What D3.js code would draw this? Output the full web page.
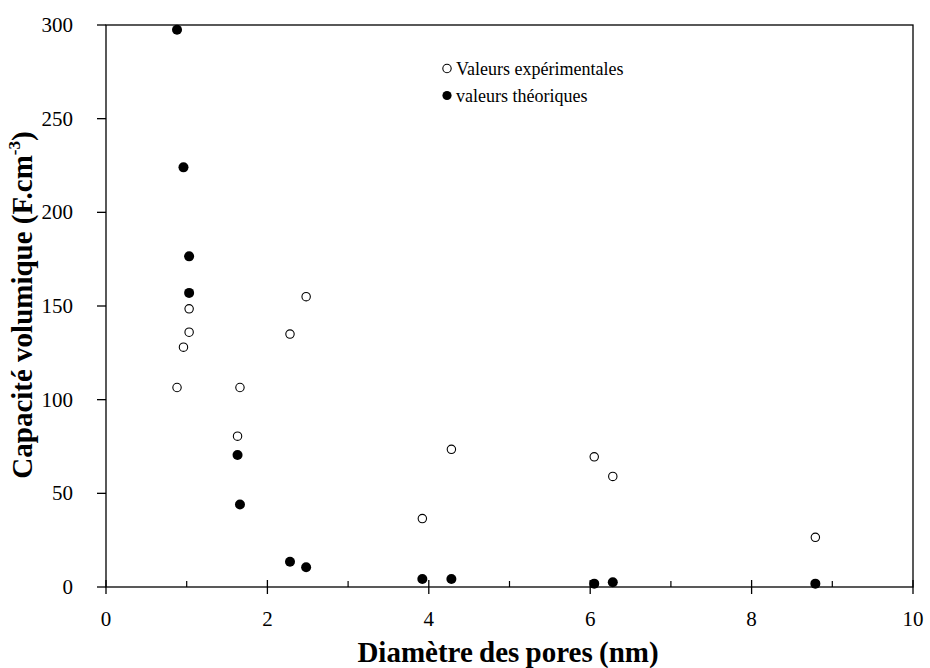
<!DOCTYPE html>
<html>
<head>
<meta charset="utf-8">
<script src="https://cdn.jsdelivr.net/npm/d3@7"></script>
<style>
  html, body { margin: 0; padding: 0; background: #fff; }
  svg { display: block; }
  svg text { font-family: 'Liberation Serif', Tinos, 'Times New Roman', Times, 'DejaVu Serif', serif; }
</style>
</head>
<body>
<svg id="chart" width="930" height="668"></svg>
<script>
// Pore diameter (nm)
const diameters = [0.88, 0.96, 1.03, 1.03, 1.63, 1.66, 2.28, 2.48, 3.92, 4.28, 6.05, 6.28, 8.79];
// Experimental volumetric capacitance (F.cm-3)
const experimental = [106.5, 128, 136, 148.5, 80.5, 106.5, 135, 155, 36.5, 73.5, 69.5, 59, 26.5];
// Theoretical volumetric capacitance (F.cm-3)
const theoretical = [297.5, 224, 176.5, 157, 70.5, 44, 13.5, 10.5, 4.3, 4.3, 1.8, 2.5, 1.8];

const xMajorTicks = [0, 2, 4, 6, 8, 10];
const xMinorTicks = [1, 3, 5, 7, 9];
const yTicks = [0, 50, 100, 150, 200, 250, 300];
const legendLabels = ["Valeurs expérimentales", "valeurs théoriques"];

const svg = d3.select("#chart");
const x = d3.scaleLinear().domain([0, 10]).range([106, 913]);
const y = d3.scaleLinear().domain([0, 300]).range([587, 25]);

const stroke = "#000";

// Frame
svg.append("rect")
  .attr("x", x(0)).attr("y", y(300))
  .attr("width", x(10) - x(0)).attr("height", y(0) - y(300))
  .attr("fill", "none").attr("stroke", stroke).attr("stroke-width", 1.3);

// X ticks
svg.selectAll(".xmaj").data(xMajorTicks).enter().append("line")
  .attr("x1", d => x(d)).attr("x2", d => x(d))
  .attr("y1", y(0) - 7).attr("y2", y(0) + 7)
  .attr("stroke", stroke).attr("stroke-width", 1.3);
svg.selectAll(".xmin").data(xMinorTicks).enter().append("line")
  .attr("x1", d => x(d)).attr("x2", d => x(d))
  .attr("y1", y(0) - 6).attr("y2", y(0))
  .attr("stroke", stroke).attr("stroke-width", 1.2);
svg.selectAll(".xlab").data(xMajorTicks).enter().append("text")
  .attr("x", d => x(d)).attr("y", 626)
  .attr("text-anchor", "middle")
  .attr("font-size", 21)
  .text(d => d);

// Y ticks
svg.selectAll(".ytick").data(yTicks).enter().append("line")
  .attr("x1", x(0) - 9).attr("x2", x(0))
  .attr("y1", d => y(d)).attr("y2", d => y(d))
  .attr("stroke", stroke).attr("stroke-width", 1.3);
svg.selectAll(".ylab").data(yTicks).enter().append("text")
  .attr("x", 73).attr("y", d => y(d))
  .attr("dy", "0.33em")
  .attr("text-anchor", "end")
  .attr("font-size", 21)
  .text(d => d);

// Axis titles
svg.append("text")
  .attr("x", 508).attr("y", 662)
  .attr("text-anchor", "middle")
  .attr("font-size", 29).attr("font-weight", "bold")
  .attr("word-spacing", -1)
  .text("Diamètre des pores (nm)");

const yt = svg.append("text")
  .attr("transform", "translate(32,305) rotate(-90)")
  .attr("text-anchor", "middle")
  .attr("font-size", 29).attr("font-weight", "bold")
  .attr("word-spacing", 0);
yt.append("tspan").text("Capacité volumique (F.cm");
yt.append("tspan").attr("font-size", 17).attr("dy", -12).text("-3");
yt.append("tspan").attr("dy", 12).text(")");

// Points
const data = diameters.map((d, i) => ({ d, e: experimental[i], t: theoretical[i] }));
svg.selectAll(".exp").data(data).enter().append("circle")
  .attr("cx", p => x(p.d)).attr("cy", p => y(p.e)).attr("r", 4.2)
  .attr("fill", "#fff").attr("stroke", stroke).attr("stroke-width", 1.1);
svg.selectAll(".theo").data(data).enter().append("circle")
  .attr("cx", p => x(p.d)).attr("cy", p => y(p.t)).attr("r", 5)
  .attr("fill", stroke);

// Legend
const legend = svg.append("g");
legend.append("circle").attr("cx", 447).attr("cy", 68.5).attr("r", 4.2)
  .attr("fill", "#fff").attr("stroke", stroke).attr("stroke-width", 1.1);
legend.append("circle").attr("cx", 447).attr("cy", 95.5).attr("r", 4.6)
  .attr("fill", stroke);
legend.append("text").attr("x", 456).attr("y", 75).attr("font-size", 18).text(legendLabels[0]);
legend.append("text").attr("x", 456).attr("y", 102).attr("font-size", 18).text(legendLabels[1]);
</script>
</body>
</html>
